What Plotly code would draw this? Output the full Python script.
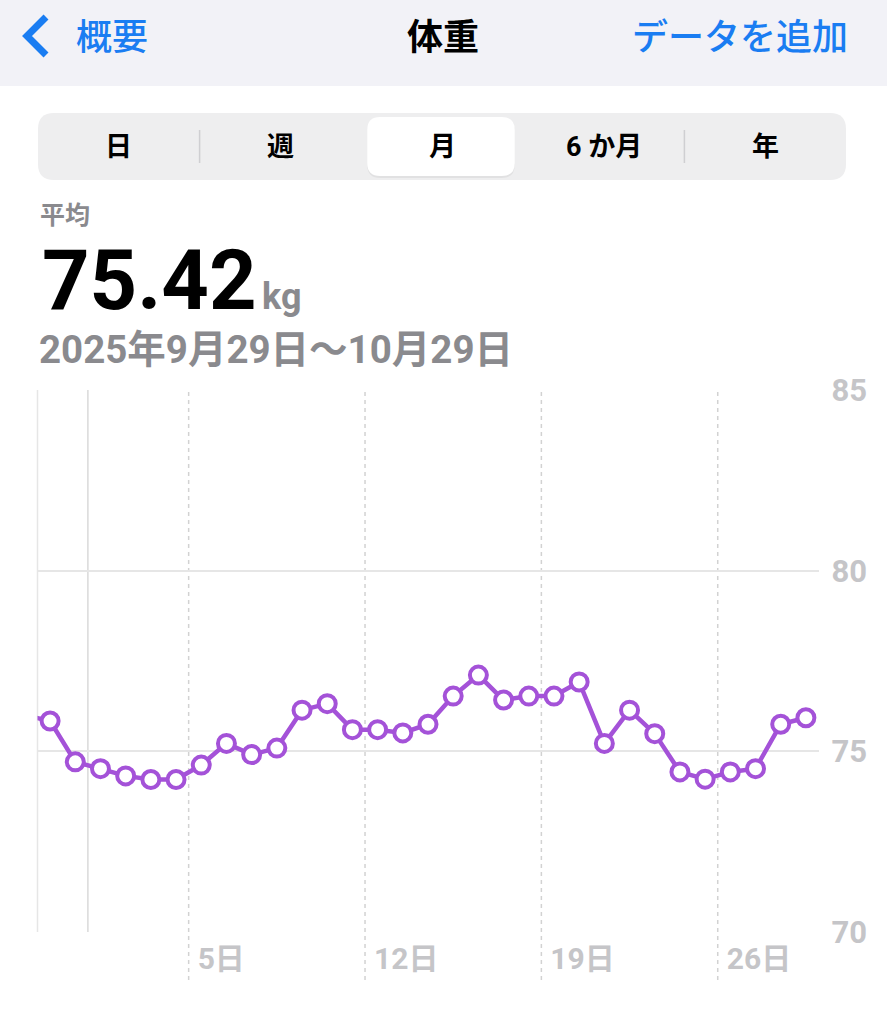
import pandas as pd
import plotly.graph_objects as go

W, H = 887, 1024

# ---------------- data ----------------
dates = [
    "2025-09-29", "2025-09-30", "2025-10-01", "2025-10-02", "2025-10-03",
    "2025-10-04", "2025-10-05", "2025-10-06", "2025-10-07", "2025-10-08",
    "2025-10-09", "2025-10-10", "2025-10-11", "2025-10-12", "2025-10-13",
    "2025-10-14", "2025-10-15", "2025-10-16", "2025-10-17", "2025-10-18",
    "2025-10-19", "2025-10-20", "2025-10-21", "2025-10-22", "2025-10-23",
    "2025-10-24", "2025-10-25", "2025-10-26", "2025-10-27", "2025-10-28",
    "2025-10-29",
]
weights = [
    75.84, 74.71, 74.52, 74.32, 74.22, 74.22, 74.62, 75.22, 74.91, 75.09,
    76.14, 76.32, 75.60, 75.60, 75.51, 75.75, 76.53, 77.11, 76.42, 76.53,
    76.53, 76.92, 75.22, 76.14, 75.49, 74.43, 74.23, 74.43, 74.52, 75.75,
    75.93,
]
prev_date = "2025-09-28"   # day before the window (line enters from the left)
prev_weight = 76.0

tick_dates = ["2025-10-05", "2025-10-12", "2025-10-19", "2025-10-26"]
tick_labels = ["5日", "12日", "19日", "26日"]
month_start = "2025-10-01"
y_ticks = [70, 75, 80, 85]
x_range = ["2025-09-29", "2025-10-30"]

segments = ["日", "週", "月", "6 か月", "年"]
selected_segment = 2
average_text = "75.42"
unit_text = "kg"
period_text = "2025年9月29日〜10月29日"

# ---------------- helpers ----------------
def X(px):
    return px / W

def Y(py):
    return 1 - py / H

def rrect(x0, y0, x1, y1, r):
    p = [
        f"M {X(x0 + r)},{Y(y0)}",
        f"L {X(x1 - r)},{Y(y0)}",
        f"Q {X(x1)},{Y(y0)} {X(x1)},{Y(y0 + r)}",
        f"L {X(x1)},{Y(y1 - r)}",
        f"Q {X(x1)},{Y(y1)} {X(x1 - r)},{Y(y1)}",
        f"L {X(x0 + r)},{Y(y1)}",
        f"Q {X(x0)},{Y(y1)} {X(x0)},{Y(y1 - r)}",
        f"L {X(x0)},{Y(y0 + r)}",
        f"Q {X(x0)},{Y(y0)} {X(x0 + r)},{Y(y0)}",
        "Z",
    ]
    return " ".join(p)

PURPLE = "#A452D8"
BLUE = "#1A7DF2"
GRAY_TXT = "#8A8A8E"
AXIS_TXT = "#C5C5C8"
GRID = "#E6E6E6"
NUM_FONT = "Roboto, 'Noto Sans CJK JP', sans-serif"
JP_FONT = "'Noto Sans CJK JP', Roboto, sans-serif"

x_all = pd.to_datetime([prev_date] + dates) + pd.Timedelta(hours=12)
y_all = [prev_weight] + weights

fig = go.Figure()
fig.add_trace(go.Scatter(
    x=x_all, y=y_all, mode="lines+markers",
    line=dict(color=PURPLE, width=4.5),
    marker=dict(size=17, color="white", line=dict(color=PURPLE, width=4)),
    cliponaxis=True, hoverinfo="skip", showlegend=False,
))

plot_left, plot_right, plot_top, plot_bottom = 37.5, 818.5, 390, 932

shapes = []
# header bar
shapes.append(dict(type="rect", xref="paper", yref="paper", x0=0, x1=1, y0=Y(86), y1=1,
                   fillcolor="#F2F2F7", line=dict(width=0), layer="below"))
# back chevron
shapes.append(dict(type="path", xref="paper", yref="paper",
                   path=f"M {X(46)},{Y(17)} L {X(27)},{Y(36)} L {X(46)},{Y(55)}",
                   line=dict(color=BLUE, width=7), layer="above"))
# segmented control
shapes.append(dict(type="path", xref="paper", yref="paper", path=rrect(38, 113, 846, 180, 16),
                   fillcolor="#EEEEEF", line=dict(width=0), layer="below"))
seg_w = (846 - 38) / len(segments)
sx0 = 38 + seg_w * selected_segment + 6
sx1 = 38 + seg_w * (selected_segment + 1) - 8
shapes.append(dict(type="path", xref="paper", yref="paper", path=rrect(sx0, 118, sx1, 178, 13),
                   fillcolor="rgba(0,0,0,0.05)", line=dict(width=0), layer="below"))
shapes.append(dict(type="path", xref="paper", yref="paper", path=rrect(sx0, 117, sx1, 176, 13),
                   fillcolor="white", line=dict(width=0), layer="below"))
for i in range(1, len(segments)):
    if i in (selected_segment, selected_segment + 1):
        continue
    sx = 38 + seg_w * i
    shapes.append(dict(type="line", xref="paper", yref="paper", x0=X(sx), x1=X(sx),
                       y0=Y(130), y1=Y(163), line=dict(color="#CFCFD2", width=1.5)))

# chart left border
shapes.append(dict(type="line", xref="x domain", yref="y", x0=0, x1=0, y0=70, y1=85,
                   line=dict(color=GRID, width=1.5), layer="below"))
# month boundary
shapes.append(dict(type="line", xref="x", yref="y", x0=month_start, x1=month_start, y0=70, y1=85,
                   line=dict(color="#D9D9D9", width=1.5), layer="below"))
# weekly dashed lines extending below the plot
for d in tick_dates:
    shapes.append(dict(type="line", xref="x", yref="paper", x0=d, x1=d, y0=Y(980), y1=Y(390),
                       line=dict(color="#D2D2D2", width=1.5, dash="4px,4px"), layer="below"))

annotations = [
    dict(text="概要", x=X(74), y=Y(34), xanchor="left", yanchor="middle",
         font=dict(family=JP_FONT, size=36, color=BLUE, weight=500)),
    dict(text="体重", x=X(443), y=Y(34), xanchor="center", yanchor="middle",
         font=dict(family=JP_FONT, size=36, color="#000000", weight="bold")),
    dict(text="データを追加", x=X(850), y=Y(34), xanchor="right", yanchor="middle",
         font=dict(family=JP_FONT, size=36, color=BLUE, weight=500)),
    dict(text="平均", x=X(38), y=Y(213), xanchor="left", yanchor="middle",
         font=dict(family=JP_FONT, size=25, color=GRAY_TXT, weight="bold")),
    dict(text=average_text, x=X(40), y=Y(280), xanchor="left", yanchor="middle",
         font=dict(family=NUM_FONT, size=83, color="#000000", weight="bold")),
    dict(text=unit_text, x=X(260), y=Y(297), xanchor="left", yanchor="middle",
         font=dict(family=NUM_FONT, size=36, color=GRAY_TXT, weight="bold")),
    dict(text=period_text, x=X(37), y=Y(349), xanchor="left", yanchor="middle",
         font=dict(family=NUM_FONT, size=38.5, color=GRAY_TXT, weight="bold")),
]
for i, s in enumerate(segments):
    cx = 38 + seg_w * (i + 0.5)
    annotations.append(dict(text=s, x=X(cx), y=Y(147), xanchor="center", yanchor="middle",
                            font=dict(family=NUM_FONT, size=27, color="#000000", weight="bold")))

for a in annotations:
    a.update(xref="paper", yref="paper", showarrow=False)

fig.update_layout(
    width=W, height=H, autosize=False,
    margin=dict(l=0, r=0, t=0, b=0, pad=0, autoexpand=False),
    paper_bgcolor="white", plot_bgcolor="white",
    shapes=shapes, annotations=annotations,
    xaxis=dict(
        type="date", range=x_range, domain=[X(plot_left), X(plot_right)],
        tickvals=tick_dates, ticktext=tick_labels, ticks="", automargin=False,
        ticklabelposition="outside right", ticklabelshift=9, ticklabelstandoff=6,
        tickfont=dict(family=NUM_FONT, size=30, color=AXIS_TXT, weight="bold"),
        showgrid=False, zeroline=False, showline=False, fixedrange=True,
    ),
    yaxis=dict(
        range=[70, 85], domain=[Y(plot_bottom), Y(plot_top)], side="right",
        tickvals=y_ticks, ticks="", ticklabelstandoff=12, automargin=False,
        tickfont=dict(family=NUM_FONT, size=31, color=AXIS_TXT, weight="bold"),
        showgrid=True, gridcolor=GRID, gridwidth=1.5,
        zeroline=False, showline=False, fixedrange=True,
    ),
)

fig.write_html("out.html", config={"displayModeBar": False},
               post_script="document.body.style.margin='0';")
